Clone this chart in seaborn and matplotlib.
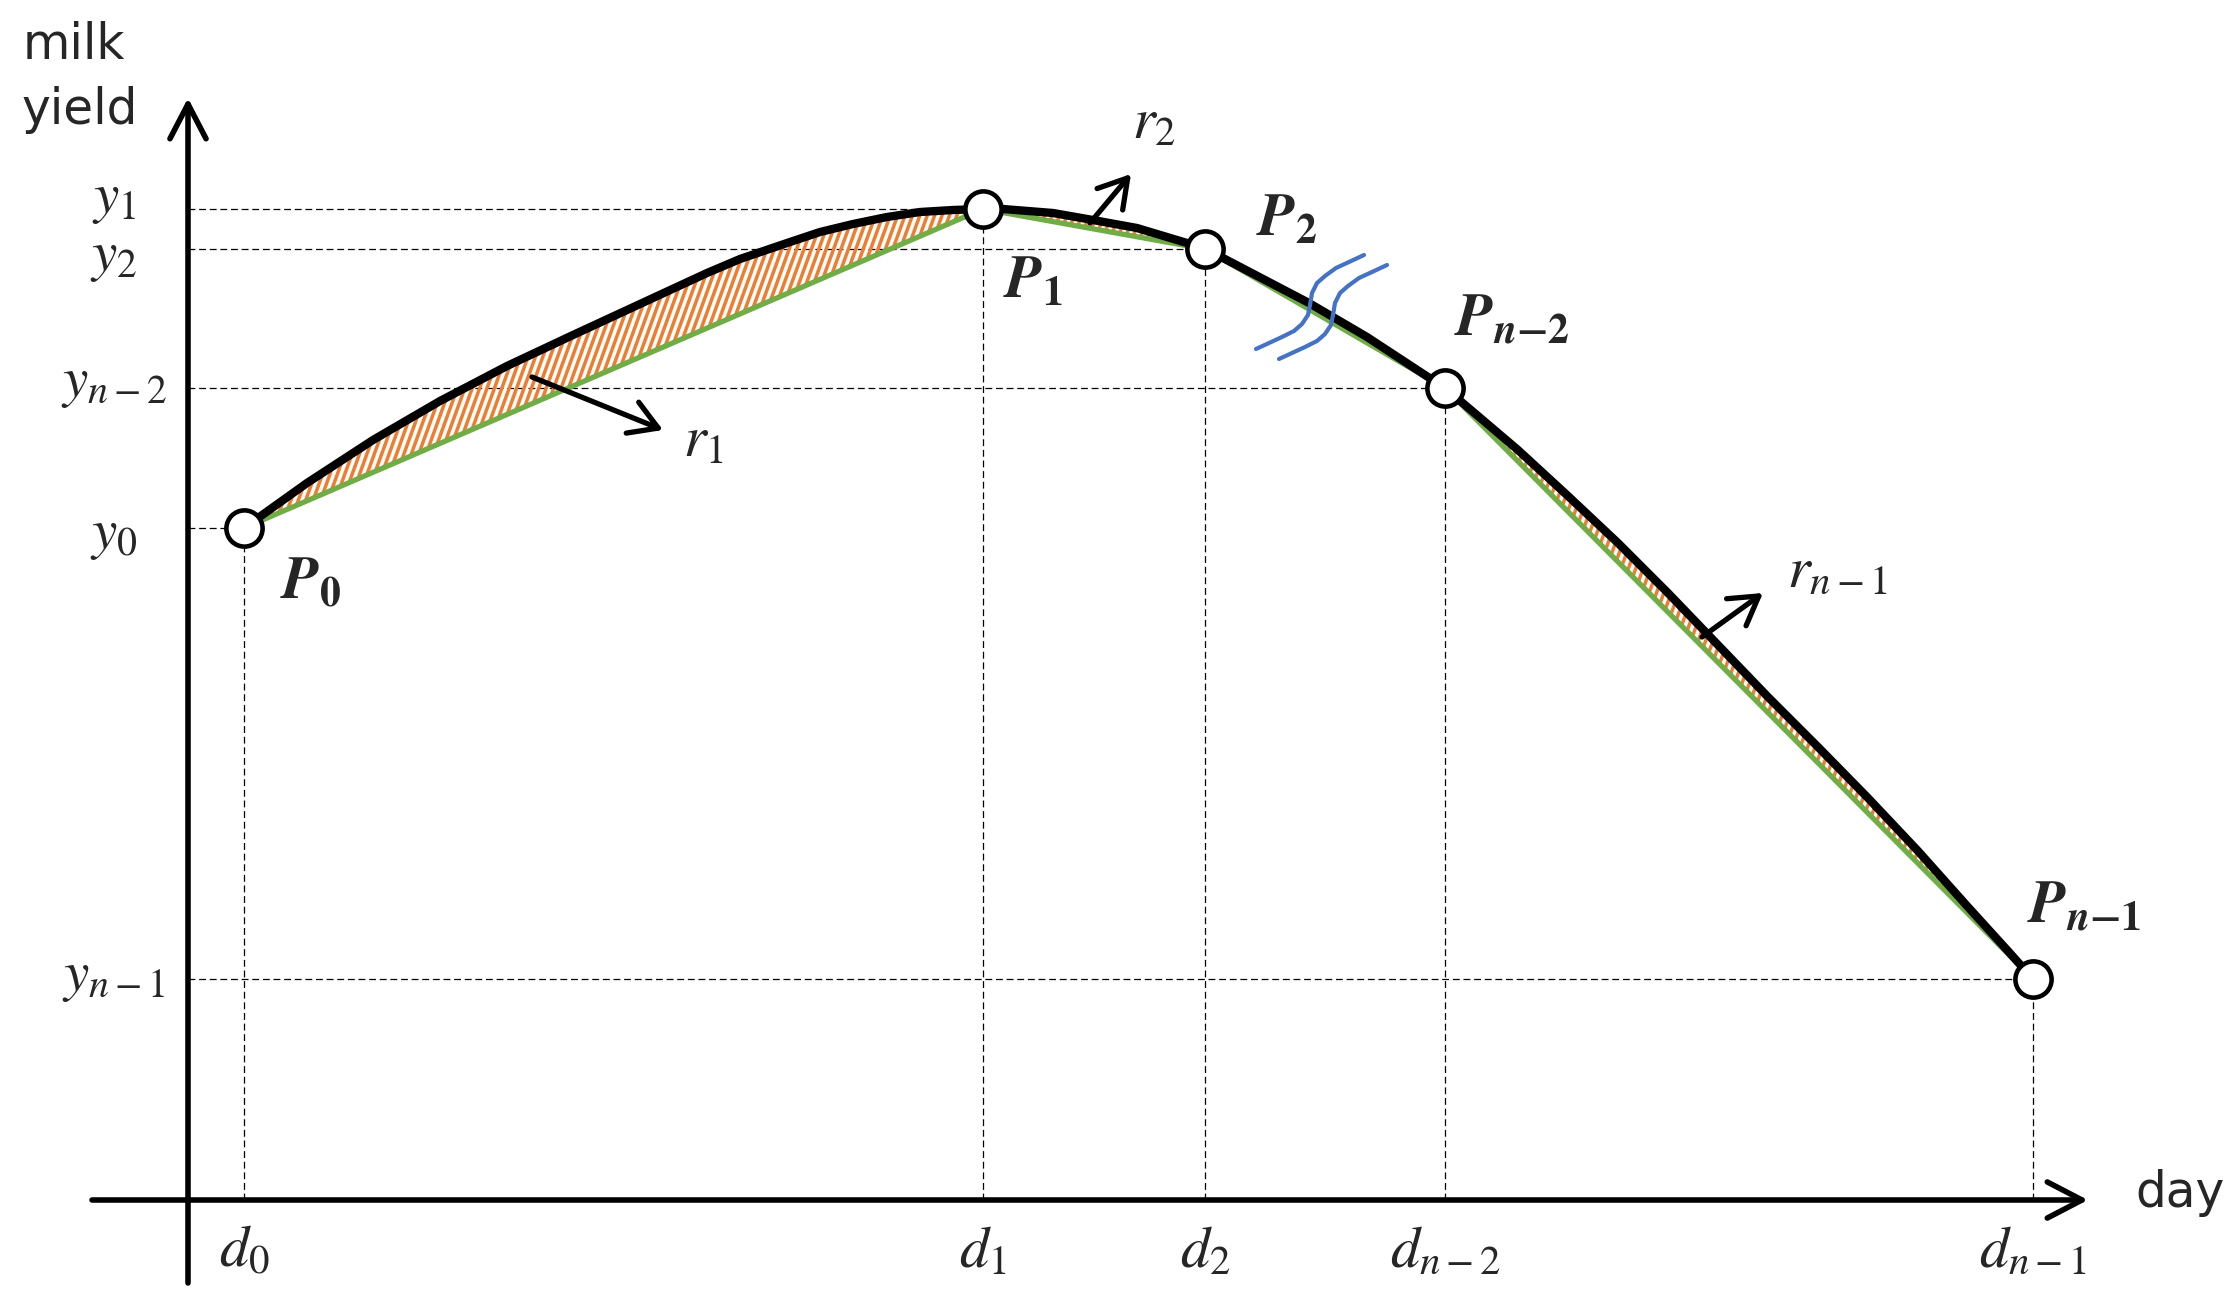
import matplotlib
matplotlib.use('Agg')
import matplotlib.pyplot as plt
import seaborn as sns
import pandas as pd
from matplotlib.path import Path
from matplotlib.patches import PathPatch
from matplotlib.collections import LineCollection

# sample points on the lactation curve
point_names = ['P_0', 'P_1', 'P_2', 'P_{n-2}', 'P_{n-1}']
point_day = [56, 795, 1017, 1257, 1845]
point_yield = [672, 991, 951, 812, 221]
day_labels = ['d_0', 'd_1', 'd_2', 'd_{n-2}', 'd_{n-1}']
yield_labels = ['y_0', 'y_1', 'y_2', 'y_{n-2}', 'y_{n-1}']

# the true curve
curve_day = [56, 119, 185, 252, 319, 385, 452, 519, 552, 599, 632, 665, 699, 732, 765, 795,
             815, 865, 905, 949, 999, 1017,
             1035, 1121, 1179, 1240, 1257,
             1290, 1330, 1380, 1430, 1480, 1530, 1580, 1630, 1680, 1730, 1780, 1820, 1845]
curve_yield = [672, 717, 760, 799, 834, 865, 896, 927, 941, 957, 968, 976, 983, 988, 990, 991,
               991, 987, 980, 972, 957, 951,
               942, 897, 863, 823, 812,
               784, 750, 704, 657, 607, 555, 503, 453, 402, 349, 293, 249, 221]

# chord segments whose residual area is hatched
hatched_segments = [0, 1, 3]

# residual arrows r_i
arrow_labels = ['r_1', 'r_2', 'r_{n-1}']
arrow_start = [(344, 823), (902, 977), (1514, 563)]
arrow_tip = [(475, 770), (943, 1026), (1575, 607)]
arrow_label_pos = [(515, 760), (966, 1078), (1650, 629)]

# axis break marks
break1_day = [1068, 1081, 1094, 1106, 1114, 1120, 1122, 1124, 1129, 1137, 1148, 1161, 1176]
break1_yield = [851, 857, 863, 869, 876, 885, 895, 907, 917, 924, 932, 938, 945]
break2_day = [1091, 1104, 1117, 1129, 1137, 1143, 1145, 1147, 1152, 1160, 1171, 1184, 1199]
break2_yield = [841, 847, 853, 859, 866, 875, 885, 897, 907, 914, 922, 928, 935]

GREEN = '#70AD47'
ORANGE = '#ED7D31'
BLUE = '#4472C4'

sns.set_theme(style='white')
plt.rcParams['mathtext.fontset'] = 'stix'
plt.rcParams['font.family'] = ['DejaVu Sans']

fig = plt.figure(figsize=(22.32, 12.92), dpi=100)
ax = fig.add_axes([0, 0, 1, 1])

curve = pd.DataFrame({'day': curve_day, 'yield': curve_yield})
points = pd.DataFrame({'day': point_day, 'yield': point_yield})

# guide lines
for d, y in zip(point_day, point_yield):
    ax.plot([0, d], [y, y], color='black', lw=0.9, dashes=(5.5, 3), zorder=1)
    ax.plot([d, d], [0, y], color='black', lw=0.9, dashes=(5.5, 3), zorder=1)

# hatched residual areas
for i in hatched_segments:
    d0, d1 = point_day[i], point_day[i + 1]
    seg = curve[(curve['day'] >= d0) & (curve['day'] <= d1)]
    verts = list(zip(seg['day'], seg['yield'])) + [(d0, point_yield[i])]
    patch = PathPatch(Path(verts), facecolor='none', edgecolor='none')
    ax.add_patch(patch)
    ylo = min(v[1] for v in verts)
    yhi = max(v[1] for v in verts)
    run = (yhi - ylo) / 2.75
    c = d0 - run - 10
    lines = []
    while c < d1 + 10:
        lines.append([(c, ylo), (c + run, yhi)])
        c += 7.4
    lc = LineCollection(lines, colors=ORANGE, linewidths=2.5, zorder=2)
    lc.set_clip_path(patch)
    ax.add_collection(lc)

# chords
for i in range(len(point_day) - 1):
    ax.plot(point_day[i:i + 2], point_yield[i:i + 2], color=GREEN, lw=3.8,
            solid_capstyle='butt', zorder=3)

# curve
sns.lineplot(data=curve, x='day', y='yield', ax=ax, color='black', lw=6,
             sort=False, zorder=4)

# break marks
ax.plot(break1_day, break1_yield, color=BLUE, lw=3, zorder=5)
ax.plot(break2_day, break2_yield, color=BLUE, lw=3, zorder=5)

# sample points
sns.scatterplot(data=points, x='day', y='yield', ax=ax, s=680, color='white',
                edgecolor='black', linewidth=3.3, zorder=6)

# coordinate axes
axis_arrow = dict(arrowstyle='->,head_length=1.0,head_width=0.52', lw=4,
                  color='black', shrinkA=0, shrinkB=0, mutation_scale=25)
ax.annotate('', xy=(1900, 0), xytext=(-96, 0), arrowprops=axis_arrow, zorder=3)
ax.annotate('', xy=(0, 1102), xytext=(0, -83), arrowprops=axis_arrow, zorder=3)

# residual arrows
for s, t, lab, pos in zip(arrow_start, arrow_tip, arrow_labels, arrow_label_pos):
    ax.annotate('', xy=t, xytext=s,
                arrowprops=dict(arrowstyle='->,head_length=1.0,head_width=0.6', lw=3.8,
                                color='black', shrinkA=0, shrinkB=0, mutation_scale=20), zorder=5)
    ax.text(pos[0], pos[1], f'${lab}$', fontsize=42, ha='center', va='center')

# point labels
label_offsets = [(48, -39), (36, -52), (59, 21), (48, 49), (36.5, 52)]
bold_names = [r'\mathbfit{P}_{\mathbf{0}}', r'\mathbfit{P}_{\mathbf{1}}', r'\mathbfit{P}_{\mathbf{2}}',
              r'\mathbfit{P}_{\mathbfit{n}\mathbf{-2}}', r'\mathbfit{P}_{\mathbfit{n}\mathbf{-1}}']
for d, y, name, off in zip(point_day, point_yield, bold_names, label_offsets):
    ax.annotate(f'${name}$', xy=(d, y), xytext=off, textcoords='offset points',
                fontsize=43, ha='center', va='center')

# tick labels
yield_label_shift = [-6, 11, -8, 6, 2]
for y, lab, sh in zip(point_yield, yield_labels, yield_label_shift):
    ax.text(-74, y + sh, f'${lab}$', fontsize=41, ha='center', va='center')
for d, lab in zip(point_day, day_labels):
    ax.text(d, -22, f'${lab}$', fontsize=42, ha='center', va='top')

# axis titles
ax.text(-165, 1141, 'milk', fontsize=35, ha='left', va='baseline')
ax.text(-166, 1076, 'yield', fontsize=35, ha='left', va='baseline')
ax.text(1947, 7, 'day', fontsize=35, ha='left', va='center')

ax.set_xlim(-188, 2044)
ax.set_ylim(-92, 1200)
ax.axis('off')

fig.savefig('out.png', dpi=100, facecolor='white')
